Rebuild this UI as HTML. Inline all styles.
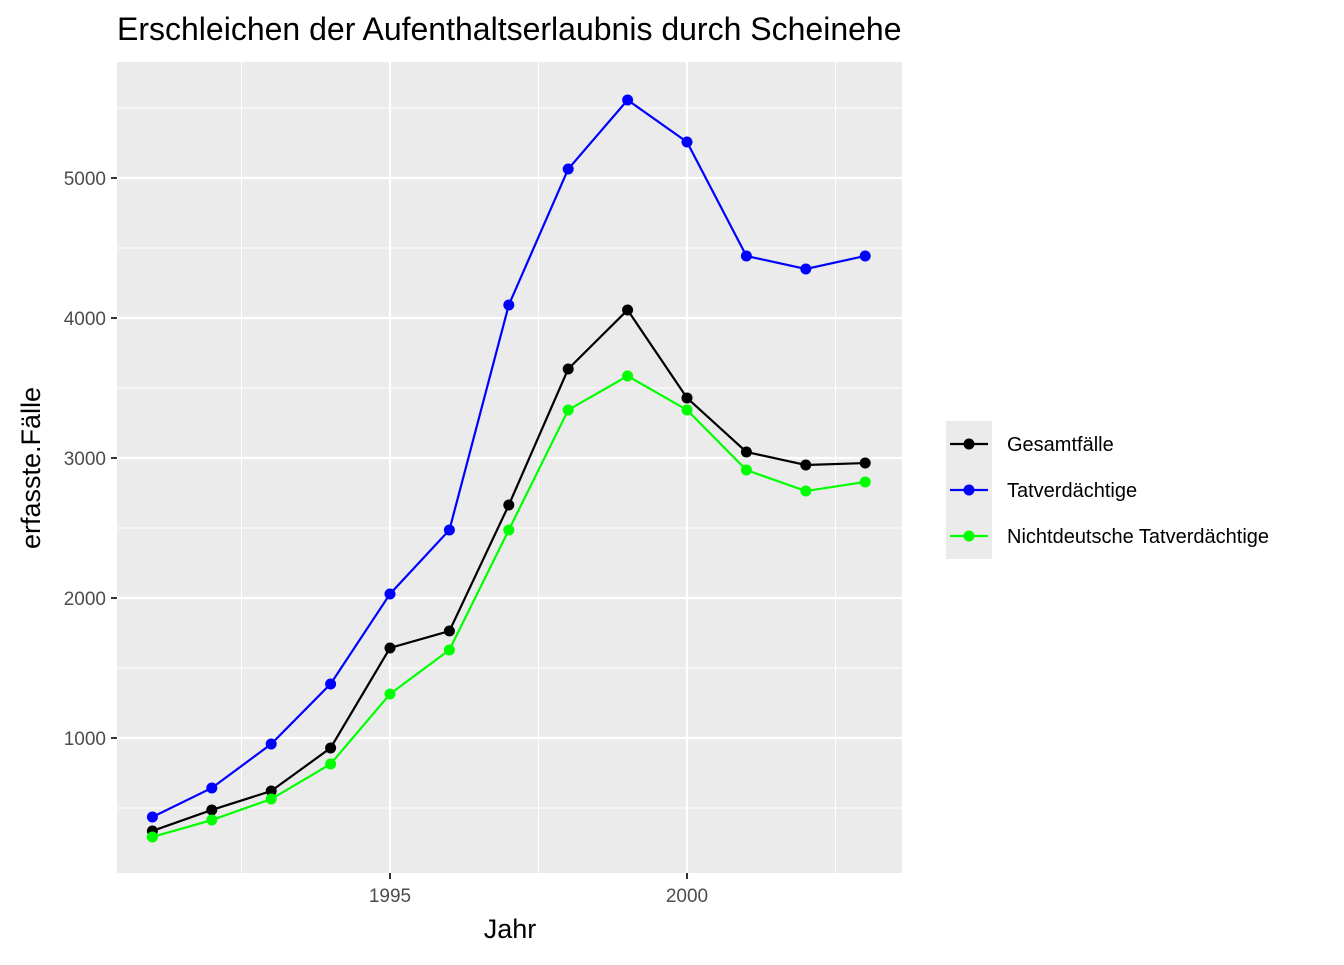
<!DOCTYPE html>
<html><head><meta charset="utf-8"><style>
body{margin:0;background:#fff;font-family:"Liberation Sans",Arial,sans-serif}
</style></head><body>
<svg width="1344" height="960" xmlns="http://www.w3.org/2000/svg" font-family="Liberation Sans, Arial, sans-serif">
<text x="117" y="40" font-size="32" fill="#000">Erschleichen der Aufenthaltserlaubnis durch Scheinehe</text>
<rect x="117" y="62" width="785" height="811" fill="#ebebeb"/>
<g id="grid"></g>
<g id="series"></g>
<g id="axes"></g>
<text x="510" y="938" font-size="27" text-anchor="middle">Jahr</text>
<text transform="translate(40,468) rotate(-90)" font-size="27" text-anchor="middle">erfasste.Fälle</text>
<g id="legend">
<rect x="946" y="421" width="46" height="138" fill="#ebebeb"/>
</g>
</svg>
<script>
const years=[1991,1992,1993,1994,1995,1996,1997,1998,1999,2000,2001,2002,2003];
const gesamt=[336,486,621,929,1643,1764,2664,3636,4057,3429,3043,2950,2964];
const tatverd=[436,643,957,1386,2029,2486,4093,5064,5557,5257,4443,4350,4443];
const nichtdt=[293,414,564,814,1314,1629,2486,3343,3586,3343,2914,2764,2829];
const xTicks=[1995,2000];
const yTicks=[1000,2000,3000,4000,5000];
const names=["Gesamtfälle","Tatverdächtige","Nichtdeutsche Tatverdächtige"];
const colors=["#000000","#0000ff","#00ff00"];
const NS="http://www.w3.org/2000/svg";
const x=v=>390+(v-1995)*59.4;
const y=v=>738-(v-1000)*0.14;
function mk(t,a,p){const e=document.createElementNS(NS,t);for(const k in a)e.setAttribute(k,a[k]);p.appendChild(e);return e;}
const grid=document.getElementById('grid'),axes=document.getElementById('axes'),ser=document.getElementById('series');
[1992.5,1997.5,2002.5].forEach(v=>{const l=mk('line',{x1:x(v),x2:x(v),y1:62,y2:873,stroke:'#fff','stroke-width':1},grid);

});
[500,1500,2500,3500,4500,5500].forEach(v=>{const l=mk('line',{x1:117,x2:902,y1:y(v),y2:y(v),stroke:'#fff','stroke-width':1},grid);

});
xTicks.forEach(v=>{const l=mk('line',{x1:x(v),x2:x(v),y1:62,y2:873,stroke:'#fff','stroke-width':2.2},grid);


mk('line',{x1:x(v),x2:x(v),y1:873,y2:879,stroke:'#333','stroke-width':2},axes);
const t=mk('text',{x:x(v),y:902,'font-size':19,fill:'#4d4d4d','text-anchor':'middle'},axes);t.textContent=v;

});
yTicks.forEach(v=>{const l=mk('line',{x1:117,x2:902,y1:y(v),y2:y(v),stroke:'#fff','stroke-width':2.2},grid);


mk('line',{x1:111,x2:117,y1:y(v),y2:y(v),stroke:'#333','stroke-width':2},axes);
const t=mk('text',{x:106,y:y(v)+7,'font-size':19,fill:'#4d4d4d','text-anchor':'end'},axes);t.textContent=v;

});
[gesamt,tatverd,nichtdt].forEach((d,i)=>{
const g=mk('g',{},ser);


mk('polyline',{points:d.map((v,j)=>x(years[j])+','+y(v)).join(' '),fill:'none',stroke:colors[i],'stroke-width':2.2},g);
d.forEach((v,j)=>{const c=mk('circle',{cx:x(years[j]),cy:y(v),r:5.5,fill:colors[i]},g);

});
});
const leg=document.getElementById('legend');
names.forEach((n,i)=>{const yy=444+i*46;
const g=mk('g',{},leg);


mk('line',{x1:950,x2:988,y1:yy,y2:yy,stroke:colors[i],'stroke-width':2.2},g);
mk('circle',{cx:969,cy:yy,r:5.5,fill:colors[i]},g);
const t=mk('text',{x:1007,y:yy+7,'font-size':20,fill:'#000'},g);t.textContent=n;});
</script>
</body></html>
